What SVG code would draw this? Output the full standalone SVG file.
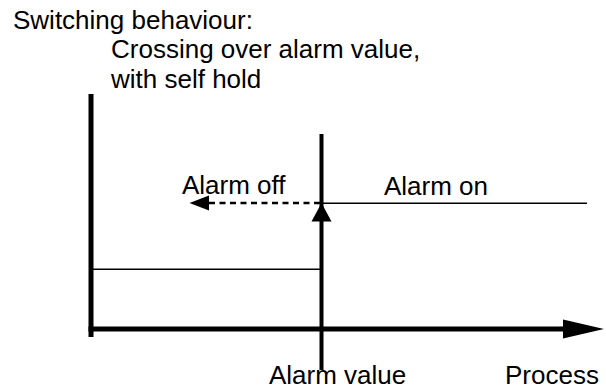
<svg xmlns="http://www.w3.org/2000/svg" width="606" height="390" viewBox="0 0 606 390">
<style>
text{font-family:"Liberation Sans",Arial,sans-serif;font-size:26px;fill:#000}
.thin{stroke:#000;stroke-width:1.5;fill:none}
.axis{stroke:#000;stroke-width:5;fill:none}
.mid{stroke:#000;stroke-width:4;fill:none}
.dash{stroke:#000;stroke-width:2.5;stroke-dasharray:6 4.5;fill:none}
.head{fill:#000}
</style>
<rect width="606" height="390" fill="#fff"/>
<g id="title">
<text x="13" y="29">Switching behaviour:</text>
<text x="111" y="58">Crossing over alarm value,</text>
<text x="111" y="88">with self hold</text>
</g>
<g id="connectors">
<line class="axis" x1="91" y1="94" x2="91" y2="337"/>
<line class="axis" x1="88.5" y1="329" x2="565" y2="329"/>
<polygon class="head" points="563,319.5 604,329 563,338.5"/>
<line class="mid" x1="321.5" y1="134" x2="321.5" y2="370"/>
<polygon class="head" points="321.5,203 331.5,221.5 311.5,221.5"/>
<line class="thin" x1="321" y1="203.3" x2="587" y2="203.3"/>
<line class="dash" x1="320" y1="203" x2="207" y2="203"/>
<polygon class="head" points="189.5,203 209,195.5 209,210.5"/>
<line class="thin" x1="91" y1="269.3" x2="321" y2="269.3"/>
</g>
<g id="labels">
<text x="182" y="194">Alarm off</text>
<text x="384" y="195">Alarm on</text>
<text x="269" y="384">Alarm value</text>
<text x="505" y="384">Process</text>
</g>
</svg>
